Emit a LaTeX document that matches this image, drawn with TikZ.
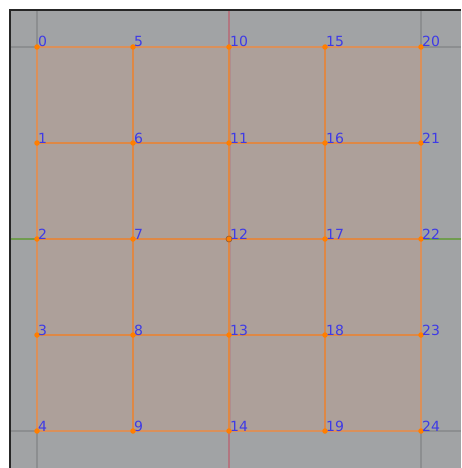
\documentclass[tikz,border=0pt]{standalone}
\usepackage{fontspec}
\setmainfont{DejaVu Sans}
\usetikzlibrary{positioning}
\usepackage{xcolor}
\definecolor{bg}{RGB}{161,163,165}
\definecolor{gridln}{RGB}{140,142,144}
\definecolor{xaxis}{RGB}{178,118,128}
\definecolor{yaxis}{RGB}{112,156,80}
\definecolor{face}{RGB}{173,160,154}
\definecolor{wire}{RGB}{222,136,70}
\definecolor{rim}{RGB}{218,144,90}
\definecolor{vert}{RGB}{255,126,0}
\definecolor{idx}{RGB}{62,58,230}

\begin{document}
\begin{tikzpicture}[x=1pt,y=-1pt,
  vtx/.style={circle,fill=vert,inner sep=0pt,minimum size=5.5pt},
  actv/.style={vtx,draw=wire!70!black,line width=0.7pt,minimum size=6pt},
  lbl/.style={text=idx,font=\fontsize{14}{14}\selectfont,anchor=base west,inner sep=0pt,xshift=1pt},
  ln/.style={draw=wire,line width=1.6pt},
  rimln/.style={draw=rim,line width=2pt}]
\useasboundingbox (0,0) rectangle (461,468);
\fill[white] (0,0) rectangle (461,468);
\fill[bg] (10,10) rectangle (461,468);
% floor grid and axes
\draw[gridln,line width=1.2pt] (37,10)--(37,468) (421,10)--(421,468) (10,47)--(461,47) (10,431)--(461,431);
\draw[xaxis,line width=2pt] (229,10)--(229,468);
\draw[yaxis,line width=1.6pt] (10,239)--(461,239);
\draw[black!85,line width=2pt] (10,468)--(10,10)--(461,10);
% mesh vertices
\foreach \i in {0,...,4}
  \foreach \j in {0,...,4}{
    \pgfmathtruncatemacro\n{5*\i+\j}
    \coordinate (v\n) at (37+96*\i,47+96*\j);
  }
\fill[face] (v0) rectangle (v24);
\draw[xaxis!45!face,line width=3pt] (v10)--(v14);
\foreach \j in {1,2,3}{
  \pgfmathtruncatemacro\m{20+\j}
  \path[ln] (v\j)--(v\m);
}
\foreach \i in {5,10,15}{
  \pgfmathtruncatemacro\m{\i+4}
  \path[ln] (v\i)--(v\m);
}
\path[rimln] (v0)--(v4)--(v24)--(v20)--cycle;
\foreach \n in {0,...,24}{
  \ifnum\n=12
    \node[actv] (p\n) at (v\n) {};
  \else
    \node[vtx] (p\n) at (v\n) {};
  \fi
  \node[lbl] (l\n) at (v\n) {\n};
}
\end{tikzpicture}
\end{document}
